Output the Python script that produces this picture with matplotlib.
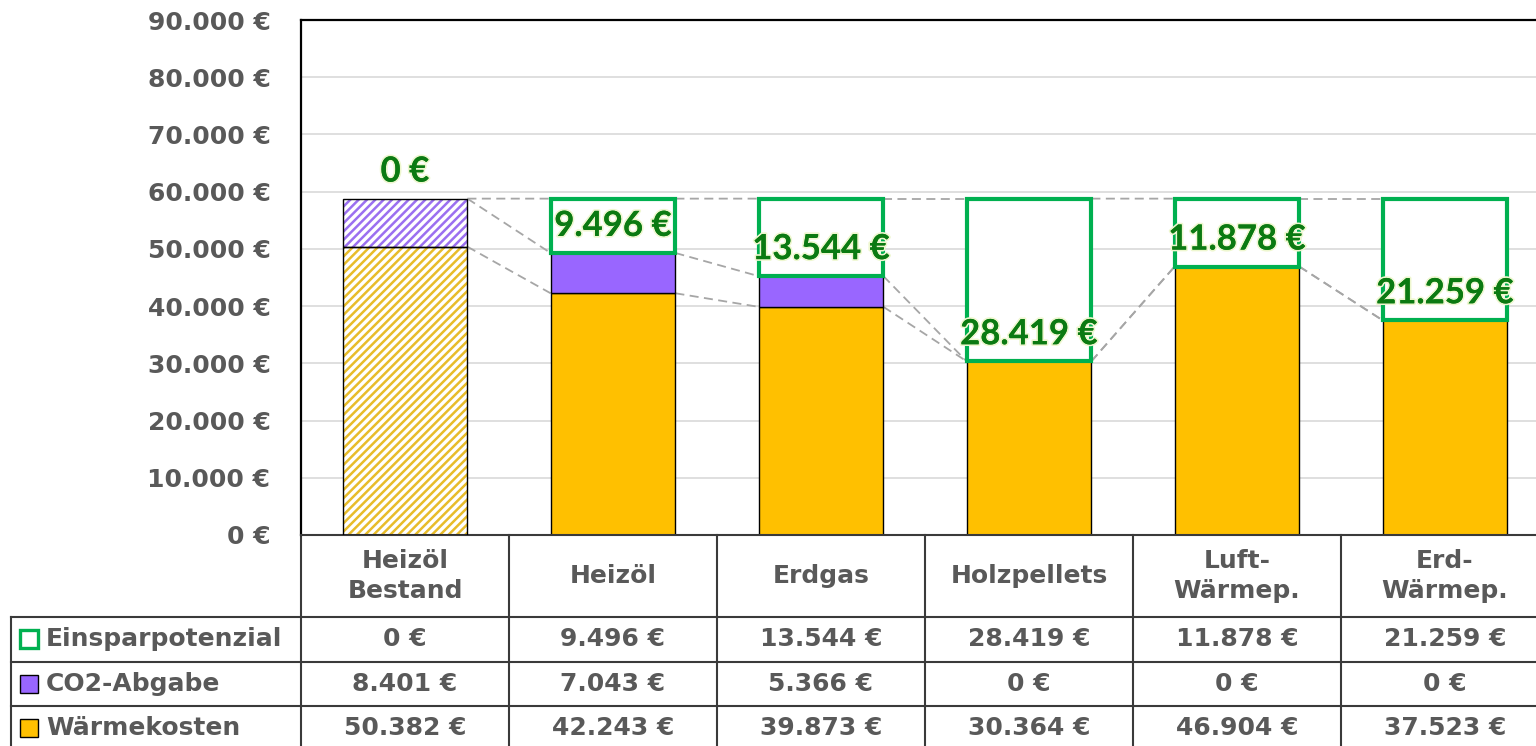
import matplotlib
matplotlib.use("Agg")
import matplotlib.pyplot as plt
from matplotlib.patches import Rectangle
from matplotlib.lines import Line2D
import matplotlib.patheffects as pe

plt.rcParams['font.family'] = ['DejaVu Sans']
plt.rcParams['font.weight'] = 'bold'
plt.rcParams['hatch.linewidth'] = 1.8

categories = ["Heizöl\nBestand", "Heizöl", "Erdgas", "Holzpellets", "Luft-\nWärmep.", "Erd-\nWärmep."]
waermekosten = [50382, 42243, 39873, 30364, 46904, 37523]
co2_abgabe = [8401, 7043, 5366, 0, 0, 0]
einsparpotenzial = [0, 9496, 13544, 28419, 11878, 21259]
series_names = ["Einsparpotenzial", "CO2-Abgabe", "Wärmekosten"]
yticks = [0, 10000, 20000, 30000, 40000, 50000, 60000, 70000, 80000, 90000]

C_ORANGE = "#FFC000"
C_PURPLE = "#9966FF"
C_GREEN = "#00B050"
C_LABEL = "#0B7A12"
C_TEXT = "#595959"
C_BORDER = "#3A3A3A"
TABLE_FS = 18

def euro(v):
    return f"{v:,}".replace(",", ".") + " €"

W, H, DPI = 1536, 746, 100
fig = plt.figure(figsize=(W / DPI, H / DPI), dpi=DPI)
fig.patch.set_facecolor("white")

# plot area in pixels
X0, Y_TOP, Y_BOT, COLW = 301, 20, 535, 208
ncat = len(categories)
ax = fig.add_axes([X0 / W, (H - Y_BOT) / H, ncat * COLW / W, (Y_BOT - Y_TOP) / H])
ax.set_xlim(-0.5, ncat - 0.5)
ax.set_ylim(0, 90000)
ax.set_yticks(yticks)
ax.set_yticklabels([euro(v) for v in yticks], fontsize=18, color=C_TEXT, fontweight='bold')
ax.tick_params(axis='y', length=0, pad=22)
ax.set_xticks([])
ax.grid(axis='y', color="#D9D9D9", lw=1.2)
ax.set_axisbelow(True)
for s in ["left", "top"]:
    ax.spines[s].set_color("black")
    ax.spines[s].set_linewidth(1.6)
ax.spines["right"].set_visible(False)
ax.spines["bottom"].set_color(C_BORDER)
ax.spines["bottom"].set_linewidth(1.5)

x = list(range(ncat))
bw = 0.6
cum1 = waermekosten
cum2 = [a + b for a, b in zip(waermekosten, co2_abgabe)]
cum3 = [a + b for a, b in zip(cum2, einsparpotenzial)]

# series lines
for lev in (cum1, cum2, cum3):
    for i in range(ncat - 1):
        ax.plot([i + bw / 2, i + 1 - bw / 2], [lev[i], lev[i + 1]], color="#A6A6A6",
                lw=1.3, ls=(0, (5, 3)), zorder=1.5)

for i in x:
    if i == 0:
        # hatched existing system
        ax.bar(i, waermekosten[i], bw, color="white", hatch="////", edgecolor="#E8BC2A", lw=0, zorder=2)
        ax.bar(i, co2_abgabe[i], bw, bottom=waermekosten[i], color="white", hatch="////",
               edgecolor="#9B70F0", lw=0, zorder=2)
        ax.bar(i, waermekosten[i], bw, fill=False, edgecolor="black", lw=1.0, zorder=3)
        ax.bar(i, co2_abgabe[i], bw, bottom=waermekosten[i], fill=False, edgecolor="black", lw=1.0, zorder=3)
    else:
        ax.bar(i, waermekosten[i], bw, color=C_ORANGE, edgecolor="black", lw=1.0, zorder=2)
        if co2_abgabe[i] > 0:
            ax.bar(i, co2_abgabe[i], bw, bottom=waermekosten[i], color=C_PURPLE, edgecolor="black", lw=1.0, zorder=2)
    if einsparpotenzial[i] > 0:
        ax.bar(i, einsparpotenzial[i], bw, bottom=cum2[i], color="white", edgecolor=C_GREEN, lw=3.0, zorder=3)
    ax.annotate(euro(einsparpotenzial[i]), (i, cum2[i]), xytext=(0, 27 * 0.72),
                textcoords="offset points", ha="center", va="center", fontsize=25,
                color=C_LABEL, fontweight='bold', family=['Lato', 'DejaVu Sans'], zorder=5,
                path_effects=[pe.withStroke(linewidth=2.5, foreground="#EEF7CF"), pe.Normal()])

# ---- data table ----
def yf(ypix):
    return (Y_BOT - ypix) / (Y_BOT - Y_TOP)

def xd(xpix):
    return -0.5 + (xpix - X0) / COLW

tr = ax.get_xaxis_transform()
rows_y = [617, 661.5, 706, 750.5]
x_left = 10.7
x_right = ncat - 0.5

def hline(ypix, xa, xb):
    ax.add_line(Line2D([xa, xb], [yf(ypix), yf(ypix)], transform=tr, color=C_BORDER, lw=1.5, clip_on=False))

def vline(xdat, ya, yb):
    ax.add_line(Line2D([xdat, xdat], [yf(ya), yf(yb)], transform=tr, color=C_BORDER, lw=1.5, clip_on=False))

for ry in rows_y:
    hline(ry, xd(x_left), x_right)
for k in range(ncat + 1):
    vline(k - 0.5, Y_BOT, rows_y[-1])
vline(xd(x_left), rows_y[0], rows_y[-1])

for i, c in enumerate(categories):
    ax.text(i, yf((Y_BOT + rows_y[0]) / 2), c, transform=tr, ha="center", va="center",
            fontsize=TABLE_FS, color=C_TEXT, fontweight='bold', linespacing=1.35, clip_on=False)

table_rows = [einsparpotenzial, co2_abgabe, waermekosten]
key_styles = [("white", C_GREEN, 2.4), (C_PURPLE, "black", 1.0), (C_ORANGE, "black", 1.0)]
for r, (name, vals) in enumerate(zip(series_names, table_rows)):
    yc = (rows_y[r] + rows_y[r + 1]) / 2
    fc, ec, lw = key_styles[r]
    sq = 18
    ax.add_patch(Rectangle((xd(20), yf(yc + sq / 2)), sq / COLW, sq / (Y_BOT - Y_TOP), transform=tr,
                           facecolor=fc, edgecolor=ec, lw=lw, clip_on=False))
    ax.text(xd(46), yf(yc), name, transform=tr, ha="left", va="center", fontsize=TABLE_FS,
            color=C_TEXT, fontweight='bold', clip_on=False)
    for i, v in enumerate(vals):
        ax.text(i, yf(yc), euro(v), transform=tr, ha="center", va="center", fontsize=TABLE_FS,
                color=C_TEXT, fontweight='bold', clip_on=False)

fig.savefig("out.png", dpi=DPI, facecolor="white")
